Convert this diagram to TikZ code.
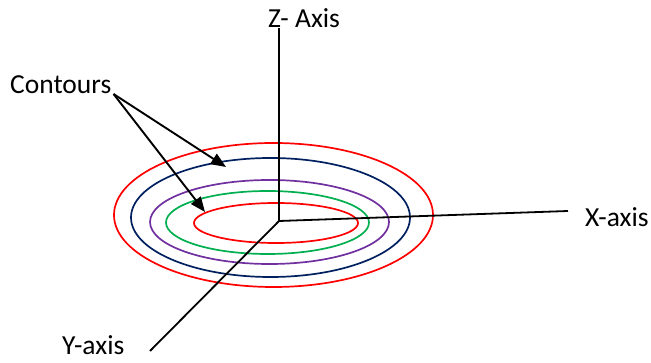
\documentclass[tikz,border=0pt]{standalone}
\usepackage{fontspec}
\setmainfont{Carlito}
\usetikzlibrary{arrows.meta}

\definecolor{ringred}{RGB}{255,0,0}
\definecolor{ringnavy}{RGB}{0,32,96}
\definecolor{ringpurple}{RGB}{112,48,160}
\definecolor{ringgreen}{RGB}{0,176,80}

\begin{document}
\begin{tikzpicture}[
  x=1pt, y=-1pt,
  every node/.style={font=\fontsize{27.5}{33}\selectfont, inner sep=0pt},
  lbl/.style={anchor=base west},
  axis/.style={draw=black, line width=1.8pt},
  contour/.style={line width=1.7pt},
  pointer/.style={-{Triangle[length=15pt, width=12pt]}, line width=1.9pt}
]
\useasboundingbox (0,0) rectangle (651,363);

% contour rings
\draw[contour, ringred]    (273.5,215) ellipse [x radius=159.5, y radius=72];
\draw[contour, ringnavy]   (270.5,217.5) ellipse [x radius=139.5, y radius=59.5];
\draw[contour, ringpurple] (269.5,222) ellipse [x radius=119.5, y radius=42];
\draw[contour, ringgreen]  (267.5,222.5) ellipse [x radius=101.5, y radius=31.5];
\draw[contour, ringred]    (276,223) ellipse [x radius=82, y radius=20];

% axes
\coordinate (origin) at (279,221);
\coordinate (ztop)   at (279,28);
\coordinate (xend)   at (568,211);
\coordinate (yend)   at (150,351);

\draw[axis] (origin) -- (ztop);
\draw[axis] (origin) -- (xend);
\draw[axis] (origin) -- (yend);

\node[lbl] (zlabel) at (268,28)  {Z- Axis};
\node[lbl] (xlabel) at (585,227) {X-axis};
\node[lbl] (ylabel) at (62,355)  {Y-axis};

% callout
\node[lbl] (contours) at (10,94) {Contours};
\coordinate (navytip)  at (226,167);
\coordinate (greentip) at (205,212);

\draw[pointer] ([xshift=2pt]contours.base east) -- (navytip);
\draw[pointer] ([xshift=2pt]contours.base east) -- (greentip);

\end{tikzpicture}
\end{document}
